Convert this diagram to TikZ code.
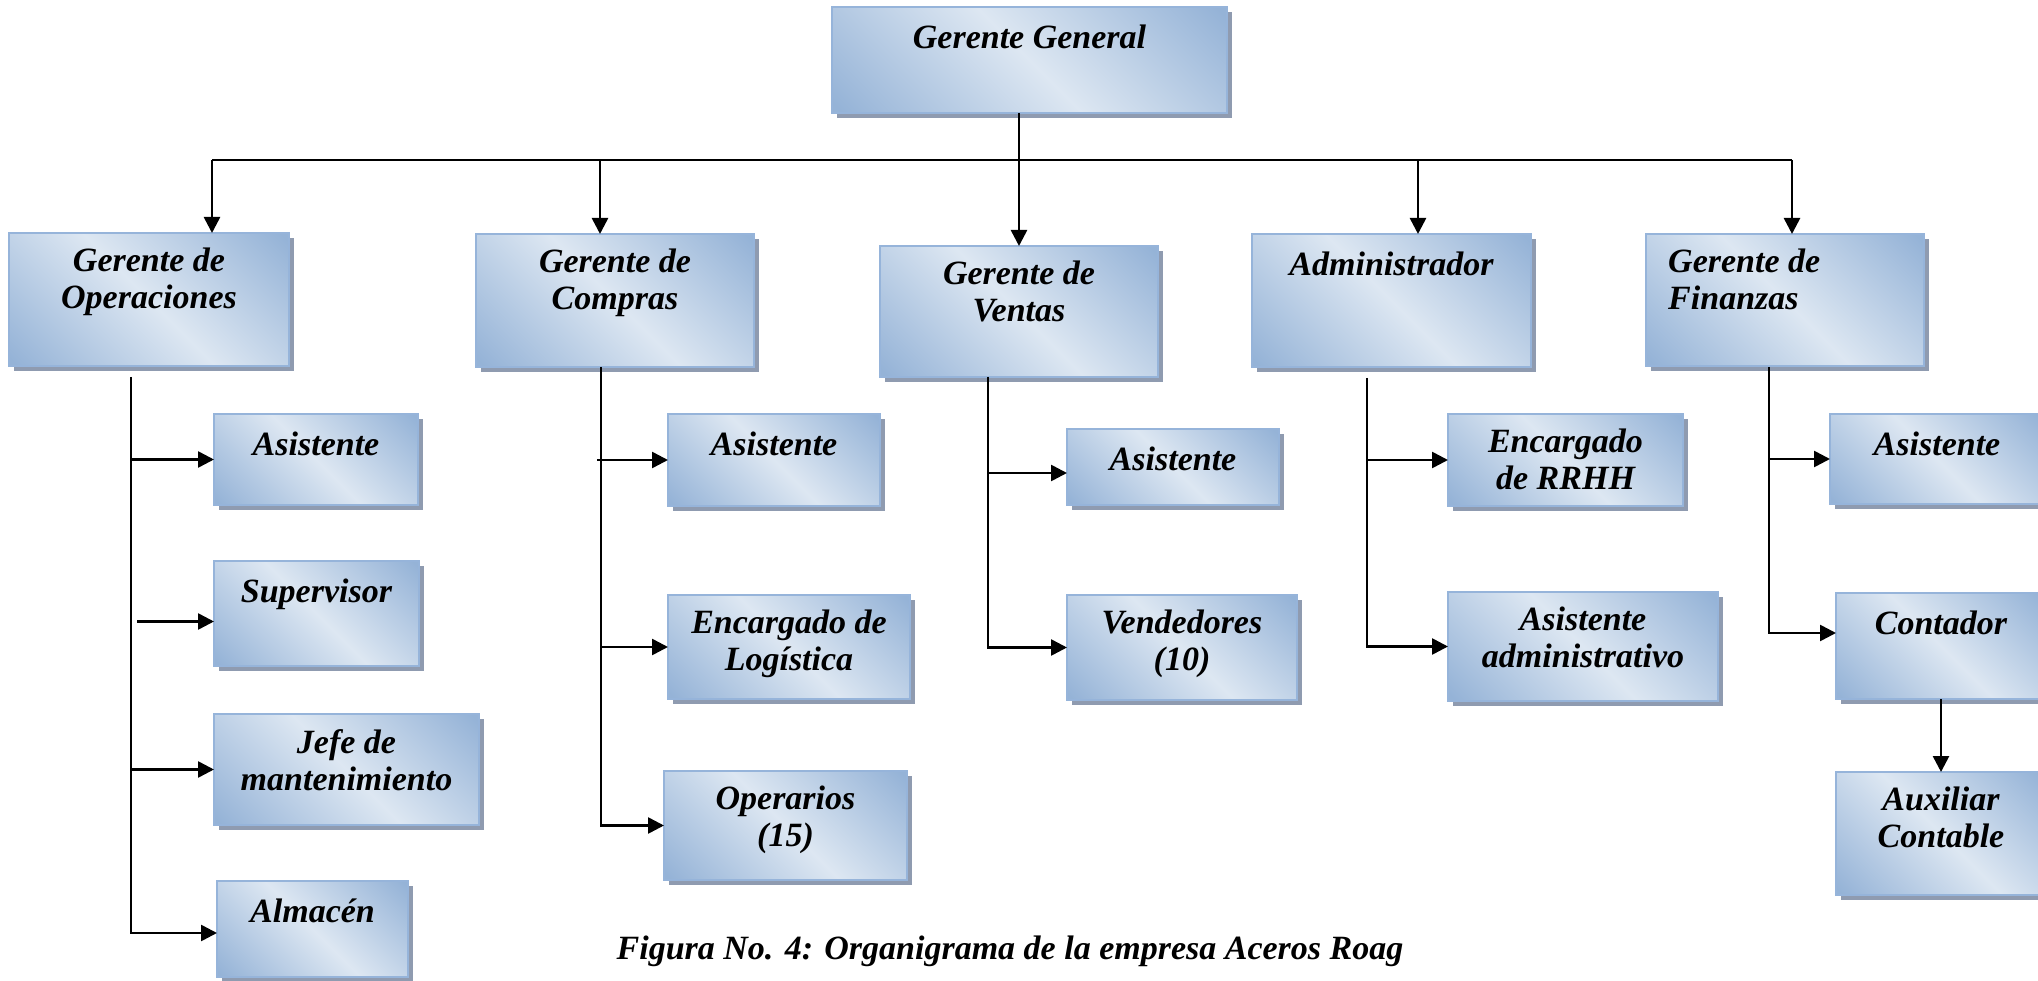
\documentclass[tikz,border=0pt]{standalone}
\usepackage{fontspec}
\setmainfont{Liberation Serif}
\usetikzlibrary{arrows.meta,calc}
\definecolor{bdark}{RGB}{149,179,215}
\definecolor{blight}{RGB}{221,231,242}
\definecolor{bborder}{RGB}{150,180,218}
\definecolor{shadowc}{RGB}{143,155,176}
\pgfdeclarehorizontalshading{boxshade}{100bp}{color(0bp)=(bdark); color(16bp)=(bdark); color(50bp)=(blight); color(84bp)=(bdark); color(100bp)=(bdark)}
\tikzset{
  box/.style={draw=bborder, line width=1.3pt, shading=boxshade, shading angle=45,
    inner sep=0pt, outer sep=0pt, anchor=north west,
    preaction={fill=shadowc, transform canvas={xshift=5pt,yshift=-5pt}}},
  lbl/.style={font=\fontsize{34}{37}\selectfont\bfseries\itshape, align=center,
    inner sep=0pt, anchor=north, execute at begin node={\rule{0pt}{26pt}}},
  ln/.style={line width=2.6pt},
  arr/.style={line width=2.6pt, -{Triangle[length=16pt,width=16pt]}},
}
\begin{document}
\begin{tikzpicture}[x=1pt,y=-1pt]
\useasboundingbox (0,0) rectangle (2038,981);
\clip (0,0) rectangle (2038,981);
% level 1 and 2
\node[box, minimum width=395pt, minimum height=106pt] (gg) at (832,7) {};
\node[box, minimum width=280pt, minimum height=133pt] (ops) at (9,233) {};
\node[box, minimum width=278pt, minimum height=133pt] (com) at (476,234) {};
\node[box, minimum width=278pt, minimum height=131pt] (ven) at (880,246) {};
\node[box, minimum width=279pt, minimum height=133pt] (adm) at (1252,234) {};
\node[box, minimum width=278pt, minimum height=132pt] (fin) at (1646,234) {};
% level 3
\node[box, minimum width=204pt, minimum height=91pt] (oa) at (214,414) {};
\node[box, minimum width=205pt, minimum height=105pt] (sup) at (214,561) {};
\node[box, minimum width=265pt, minimum height=111pt] (jef) at (214,714) {};
\node[box, minimum width=191pt, minimum height=96pt] (alm) at (217,881) {};
\node[box, minimum width=212pt, minimum height=92pt] (ca) at (668,414) {};
\node[box, minimum width=242pt, minimum height=104pt] (log) at (668,595) {};
\node[box, minimum width=243pt, minimum height=109pt] (ope) at (664,771) {};
\node[box, minimum width=212pt, minimum height=76pt] (va) at (1067,429) {};
\node[box, minimum width=230pt, minimum height=105pt] (vend) at (1067,595) {};
\node[box, minimum width=235pt, minimum height=92pt] (rrhh) at (1448,414) {};
\node[box, minimum width=270pt, minimum height=109pt] (aad) at (1448,592) {};
\node[box, minimum width=214pt, minimum height=90pt] (fa) at (1830,414) {};
\node[box, minimum width=210pt, minimum height=106pt] (cont) at (1836,593) {};
\node[box, minimum width=210pt, minimum height=123pt] (aux) at (1836,772) {};
% labels
\node[lbl] (gg-t) at (1029.5,22) {Gerente General};
\node[lbl] (ops-t) at (149,248) {Gerente de\\Operaciones};
\node[lbl] (com-t) at (615,249) {Gerente de\\Compras};
\node[lbl] (ven-t) at (1019,261) {Gerente de\\Ventas};
\node[lbl] (adm-t) at (1391.5,249) {Administrador};
\node[lbl, align=left, anchor=north west] (fin-t) at (1668,249) {Gerente de\\Finanzas};
\node[lbl] (oa-t) at (316,429) {Asistente};
\node[lbl] (sup-t) at (316.5,576) {Supervisor};
\node[lbl] (jef-t) at (346.5,729) {Jefe de\\mantenimiento};
\node[lbl] (alm-t) at (312.5,896) {Almac\'en};
\node[lbl] (ca-t) at (774,429) {Asistente};
\node[lbl] (log-t) at (789,610) {Encargado de\\Log\'istica};
\node[lbl] (ope-t) at (785.5,786) {Operarios\\(15)};
\node[lbl] (va-t) at (1173,444) {Asistente};
\node[lbl] (vend-t) at (1182,610) {Vendedores\\(10)};
\node[lbl] (rrhh-t) at (1565.5,429) {Encargado\\de RRHH};
\node[lbl] (aad-t) at (1583,607) {Asistente\\administrativo};
\node[lbl] (fa-t) at (1937,429) {Asistente};
\node[lbl] (cont-t) at (1941,608) {Contador};
\node[lbl] (aux-t) at (1941,787) {Auxiliar\\Contable};
% caption
\node[font=\fontsize{34}{37}\selectfont\bfseries\itshape, anchor=base, inner sep=0pt] (cap) at (1010,959) {Figura No. 4: Organigrama de la empresa Aceros Roag};
% top connectors
\coordinate (b1) at (212,160);
\coordinate (b2) at (600,160);
\coordinate (b4) at (1418,160);
\coordinate (b5) at (1792,160);
\draw[ln] (b1) -- (b5);
\draw[arr] (gg.south -| ven.north) -- (ven.north);
\draw[arr] (b1) -- (b1 |- ops.north);
\draw[arr] (b2) -- (b2 |- com.north);
\draw[arr] (b4) -- (b4 |- adm.north);
\draw[arr] (b5) -- (b5 |- fin.north);
% operaciones
\coordinate (s1) at (131,377);
\coordinate (s1e) at ($(s1 |- alm.west)+(0,4)$);
\draw[arr] (s1) -- (s1e) -- (s1e -| alm.west);
\draw[arr] (s1 |- oa.west) -- (oa.west);
\draw[arr] ($(s1 |- sup.west)+(6,8)$) -- ($(sup.west)+(0,8)$);
\draw[arr] (s1 |- jef.west) -- (jef.west);
% compras
\coordinate (s2) at (601,367);
\draw[arr] (s2) -- (s2 |- ope.west) -- (ope.west);
\draw[arr] ($(s2 |- ca.west)+(-4,0)$) -- (ca.west);
\draw[arr] (s2 |- log.west) -- (log.west);
% ventas
\coordinate (s3) at (988,377);
\draw[arr] (s3) -- (s3 |- vend.west) -- (vend.west);
\draw[arr] ($(s3 |- va.west)+(0,6)$) -- ($(va.west)+(0,6)$);
% administrador
\coordinate (s4) at (1367,378);
\draw[arr] (s4) -- (s4 |- aad.west) -- (aad.west);
\draw[arr] (s4 |- rrhh.west) -- (rrhh.west);
% finanzas
\coordinate (s5) at (1769,367);
\coordinate (s5e) at ($(s5 |- cont.west)+(0,-13)$);
\draw[arr] (s5) -- (s5e) -- (s5e -| cont.west);
\draw[arr] (s5 |- fa.west) -- (fa.west);
\draw[arr] (cont.south) -- (aux.north);
\end{tikzpicture}
\end{document}
